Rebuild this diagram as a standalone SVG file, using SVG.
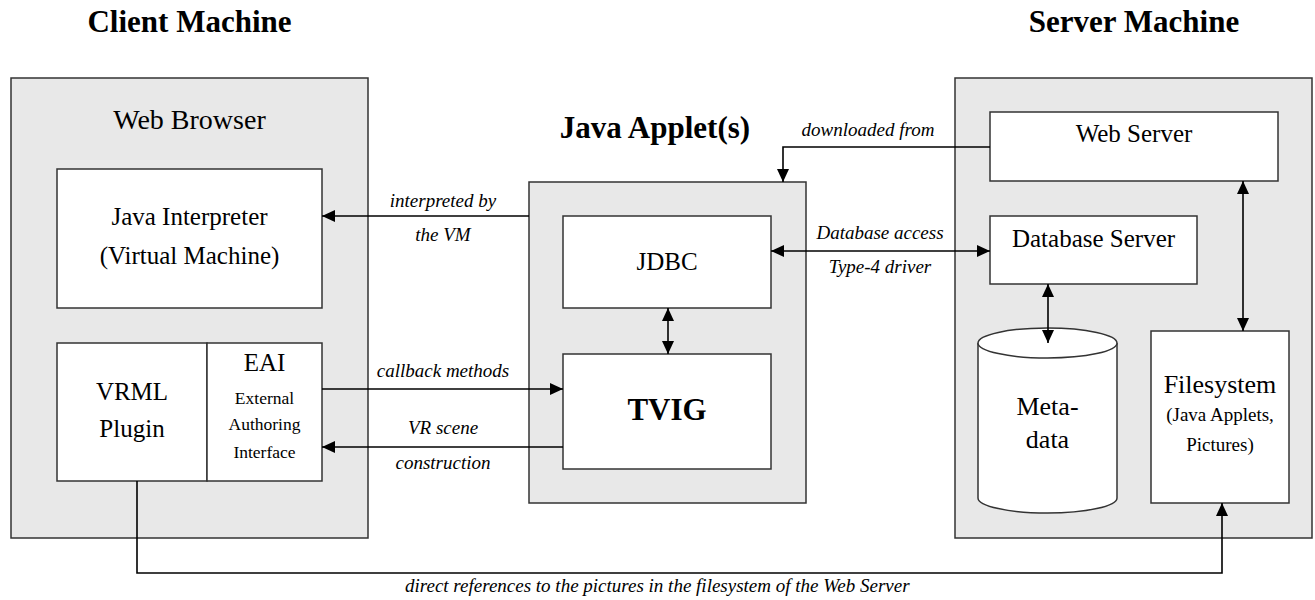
<svg xmlns="http://www.w3.org/2000/svg" width="1315" height="600" viewBox="0 0 1315 600">
  <style>
    text { font-family: "Liberation Serif", "Times New Roman", serif; fill: #000; text-anchor: middle; }
    .title { font-size: 31px; font-weight: bold; }
    .lbl { font-size: 25px; }
    .small { font-size: 19px; }
    .tiny { font-size: 17.5px; }
    .ital { font-size: 19px; font-style: italic; }
    .outer { fill: #e8e8e8; stroke: #333; stroke-width: 1.5; }
    .inner { fill: #fff; stroke: #333; stroke-width: 1.5; }
    .conn { fill: none; stroke: #000; stroke-width: 1.6; }
  </style>
  <defs>
    <marker id="arrow" viewBox="0 0 13 12" refX="13" refY="6" markerWidth="13" markerHeight="12" markerUnits="userSpaceOnUse" orient="auto-start-reverse">
      <path d="M0,0 L13,6 L0,12 Z" fill="#000"/>
    </marker>
  </defs>

  <rect width="1315" height="600" fill="#fff"/>

  <!-- headings -->
  <text class="title" x="189.5" y="32">Client Machine</text>
  <text class="title" x="1134" y="32">Server Machine</text>
  <text class="title" x="655" y="138">Java Applet(s)</text>

  <!-- client side -->
  <g id="web-browser">
    <rect class="outer" x="11" y="78" width="357" height="460"/>
    <text class="lbl" style="font-size:28px" x="189.5" y="129">Web Browser</text>
  </g>
  <g id="java-interpreter">
    <rect class="inner" x="57" y="169" width="265" height="139"/>
    <text class="lbl" x="189.5" y="225">Java Interpreter</text>
    <text class="lbl" x="189.5" y="264">(Virtual Machine)</text>
  </g>
  <g id="vrml-plugin">
    <rect class="inner" x="57" y="343" width="150" height="138"/>
    <text class="lbl" x="132" y="400">VRML</text>
    <text class="lbl" x="132" y="437">Plugin</text>
  </g>
  <g id="eai">
    <rect class="inner" x="207" y="343" width="115" height="138"/>
    <text class="lbl" x="264.5" y="371">EAI</text>
    <text class="tiny" x="264.5" y="404">External</text>
    <text class="tiny" x="264.5" y="430">Authoring</text>
    <text class="tiny" x="264.5" y="458">Interface</text>
  </g>

  <!-- applet side -->
  <g id="java-applets">
    <rect class="outer" x="529" y="182" width="277" height="321"/>
  </g>
  <g id="jdbc">
    <rect class="inner" x="563" y="216" width="208" height="92"/>
    <text class="lbl" x="667" y="270">JDBC</text>
  </g>
  <g id="tvig">
    <rect class="inner" x="563" y="354" width="208" height="115"/>
    <text class="title" x="667" y="420">TVIG</text>
  </g>

  <!-- server side -->
  <g id="server-machine">
    <rect class="outer" x="955" y="78" width="357" height="460"/>
  </g>
  <g id="web-server">
    <rect class="inner" x="990" y="112" width="288" height="69"/>
    <text class="lbl" x="1134" y="142">Web Server</text>
  </g>
  <g id="database-server">
    <rect class="inner" x="990" y="216" width="207" height="68"/>
    <text class="lbl" x="1093.5" y="247">Database Server</text>
  </g>
  <g id="metadata">
    <path class="inner" d="M978,343 L978,498 A69.5,15 0 0 0 1117,498 L1117,343"/>
    <ellipse class="inner" cx="1047.5" cy="343" rx="69.5" ry="15"/>
    <text class="lbl" style="font-size:26px" x="1047.5" y="415">Meta-</text>
    <text class="lbl" style="font-size:26px" x="1047.5" y="448">data</text>
  </g>
  <g id="filesystem">
    <rect class="inner" x="1151" y="331" width="138" height="172"/>
    <text class="lbl" style="font-size:26px" x="1220" y="393">Filesystem</text>
    <text class="small" x="1220" y="421">(Java Applets,</text>
    <text class="small" x="1220" y="451">Pictures)</text>
  </g>

  <!-- connectors -->
  <g id="connectors">
    <path class="conn" d="M529,216 L322,216" marker-end="url(#arrow)"/>
    <path class="conn" d="M322,389 L563,389" marker-end="url(#arrow)"/>
    <path class="conn" d="M563,447 L322,447" marker-end="url(#arrow)"/>
    <path class="conn" d="M668,308 L668,354" marker-start="url(#arrow)" marker-end="url(#arrow)"/>
    <path class="conn" d="M771,251 L990,251" marker-start="url(#arrow)" marker-end="url(#arrow)"/>
    <path class="conn" d="M990,147 L783,147 L783,182" marker-end="url(#arrow)"/>
    <path class="conn" d="M1243,181 L1243,331" marker-start="url(#arrow)" marker-end="url(#arrow)"/>
    <path class="conn" d="M1048,284 L1048,343" marker-start="url(#arrow)" marker-end="url(#arrow)"/>
    <path class="conn" d="M137,481 L137,573 L1222,573 L1222,503" marker-end="url(#arrow)"/>

    <text class="ital" x="443" y="207">interpreted by</text>
    <text class="ital" x="443" y="241">the VM</text>
    <text class="ital" x="443" y="377">callback methods</text>
    <text class="ital" x="443" y="434">VR scene</text>
    <text class="ital" x="443" y="469">construction</text>
    <text class="ital" x="868" y="136">downloaded from</text>
    <text class="ital" x="880" y="239">Database access</text>
    <text class="ital" x="880" y="273">Type-4 driver</text>
    <text class="ital" x="405" y="592" style="text-anchor:start">direct references to the pictures in the filesystem of the Web Server</text>
  </g>
</svg>
